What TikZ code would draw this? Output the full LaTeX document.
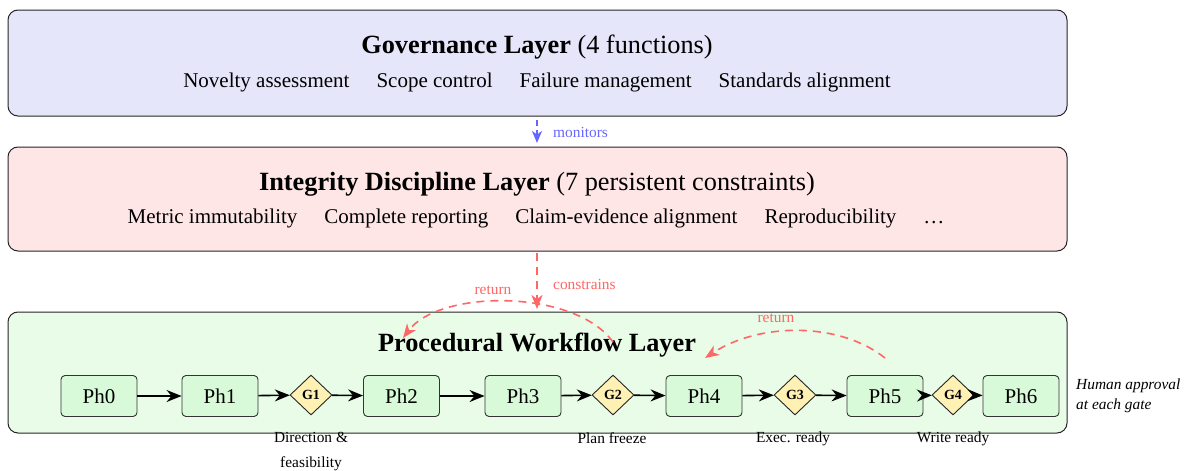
\documentclass[tikz,border=0pt]{standalone}
\usepackage{fontspec}
\setmainfont{Liberation Serif}
\usetikzlibrary{shapes.geometric,arrows.meta}
\definecolor{govfill}{RGB}{230,230,250}
\definecolor{intfill}{RGB}{255,230,230}
\definecolor{wffill}{RGB}{232,252,232}
\definecolor{phfill}{RGB}{216,250,216}
\definecolor{gatefill}{RGB}{255,240,180}
\definecolor{monblue}{RGB}{102,102,255}
\definecolor{conred}{RGB}{255,102,102}
\tikzset{
  layerbox/.style={draw=black!85, line width=1pt, rounded corners=10pt},
  phasebox/.style={draw=black!80, line width=0.9pt, rounded corners=4pt, fill=phfill,
    minimum width=76pt, minimum height=41pt, inner sep=0pt, font=\fontsize{21}{25}\selectfont},
  gatebox/.style={diamond, draw=black!85, line width=0.9pt, fill=gatefill, aspect=1.05,
    minimum width=42pt, minimum height=40pt, inner sep=0pt, font=\fontsize{14}{16}\selectfont\bfseries},
  flow/.style={-{Stealth[length=15pt,width=12pt,inset=5pt]}, line width=1.6pt, black},
  headtext/.style={font=\fontsize{26.3}{30}\selectfont, inner sep=0pt},
  itemtext/.style={font=\fontsize{21}{25}\selectfont, inner sep=0pt},
  smalltext/.style={font=\fontsize{15.4}{25}\selectfont, inner sep=0pt},
  dashred/.style={conred, dashed, dash pattern=on 8pt off 6pt, line width=1.6pt,
    -{Stealth[length=14pt,width=11pt,inset=4pt]}},
}
\begin{document}
\begin{tikzpicture}[x=1pt,y=-1pt]
\useasboundingbox (0,0) rectangle (1187,471);
% layer boxes
\draw[layerbox, fill=govfill] (8,10) rectangle (1067,116);
\draw[layerbox, fill=intfill] (8,147) rectangle (1067,251);
\draw[layerbox, fill=wffill] (8,312) rectangle (1067,433);
% governance
\node[headtext] (govtitle) at (537,47) {\textbf{Governance Layer} (4 functions)};
\node[itemtext] (govitems) at (537,82) {Novelty assessment\hspace{27pt}Scope control\hspace{27pt}Failure management\hspace{27pt}Standards alignment};
% integrity
\node[headtext] (inttitle) at (537,184) {\textbf{Integrity Discipline Layer} (7 persistent constraints)};
\node[itemtext] (intitems) at (536,218) {Metric immutability\hspace{27pt}Complete reporting\hspace{27pt}Claim-evidence alignment\hspace{27pt}Reproducibility\hspace{27pt}\dots};
% workflow
\node[headtext] (wftitle) at (537,345) {\textbf{Procedural Workflow Layer}};
% monitors
\coordinate (monA) at (537,120);
\coordinate (monB) at (537,143);
\draw[monblue, dashed, dash pattern=on 6pt off 4pt, line width=1.5pt, -{Stealth[length=12pt,width=10pt,inset=3.5pt]}] (monA) -- (monB);
\node[smalltext, text=monblue, anchor=west] (monlbl) at (553,132) {monitors};
% constrains
\coordinate (conA) at (537,253);
\coordinate (conB) at (537,309);
\draw[dashred] (conA) -- (conB);
\node[smalltext, text=conred, anchor=west] (conlbl) at (553,284) {constrains};
% return arcs
\coordinate (r1a) at (613,342);
\coordinate (r1b) at (403,338);
\draw[dashred] (r1a) .. controls (575,289) and (440,289) .. (r1b);
\node[smalltext, text=conred] (r1lbl) at (493,290) {return};
\coordinate (r2a) at (885,358);
\coordinate (r2b) at (705,358);
\draw[dashred] (r2a) .. controls (840,322) and (760,322) .. (r2b);
\node[smalltext, text=conred] (r2lbl) at (776,318) {return};
% phases
\node[phasebox] (p0) at (99,396) {Ph0};
\node[phasebox] (p1) at (220,396) {Ph1};
\node[gatebox] (g1) at (311,395) {G1};
\node[phasebox] (p2) at (401.5,396) {Ph2};
\node[phasebox] (p3) at (523,396) {Ph3};
\node[gatebox] (g2) at (613,395) {G2};
\node[phasebox] (p4) at (704,396) {Ph4};
\node[gatebox] (g3) at (795,395) {G3};
\node[phasebox] (p5) at (885,396) {Ph5};
\node[gatebox] (g4) at (953,395) {G4};
\node[phasebox] (p6) at (1021,396) {Ph6};
\draw[flow] (p0) -- (p1);
\draw[flow] (p1) -- (g1);
\draw[flow] (g1) -- (p2);
\draw[flow] (p2) -- (p3);
\draw[flow] (p3) -- (g2);
\draw[flow] (g2) -- (p4);
\draw[flow] (p4) -- (g3);
\draw[flow] (g3) -- (p5);
\draw[flow] (p5) -- (g4);
\draw[flow] (g4) -- (p6);
% gate labels
\node[smalltext, align=center, anchor=north] (g1lbl) at (311,432) {Direction \&\\feasibility};
\node[smalltext, anchor=north] (g2lbl) at (612,432) {Plan freeze};
\node[smalltext, anchor=north] (g3lbl) at (793,432) {Exec. ready};
\node[smalltext, anchor=north] (g4lbl) at (953,432) {Write ready};
% note
\node[smalltext, font=\fontsize{15.4}{20}\selectfont\itshape, align=left, anchor=west] (note) at (1076,396) {Human approval\\at each gate};
\end{tikzpicture}
\end{document}
